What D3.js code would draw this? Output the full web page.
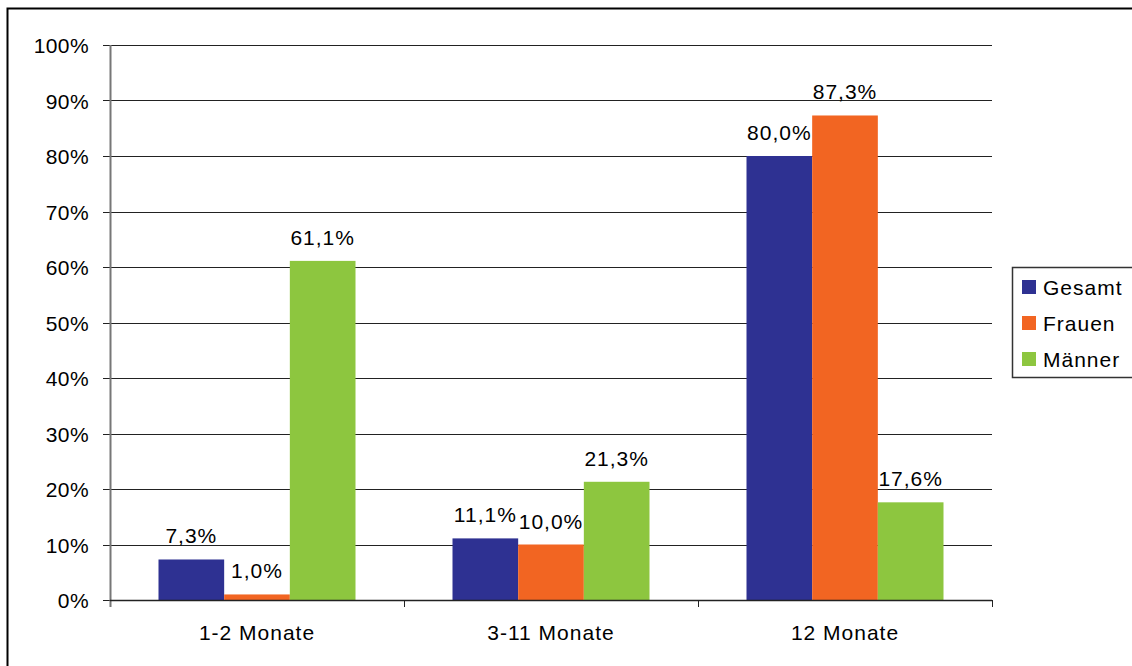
<!DOCTYPE html>
<html>
<head>
<meta charset="utf-8">
<script src="https://cdn.jsdelivr.net/npm/d3@7"></script>
<style>
	body { margin: 0; background: #fff; }
	text { font-family: "Liberation Sans", Arial, sans-serif; fill: #000; }
</style>
</head>
<body>
<div id="chart"></div>
<script>
// Chart data
var categories = ['1-2 Monate', '3-11 Monate', '12 Monate'];
var series = ['Gesamt', 'Frauen', 'Männer'];
var gesamt = [7.3, 11.1, 80.0];
var frauen = [1.0, 10.0, 87.3];
var maenner = [61.1, 21.3, 17.6];
var y_ticks = [0, 10, 20, 30, 40, 50, 60, 70, 80, 90, 100];
var colors = ['#2E3192', '#F26522', '#8DC63F'];

var total_width = 1132;
var total_height = 666;
var plot = {
	left: 110,
	right: 992,
	top: 45,
	bottom: 600
};

var svg = d3.select('#chart')
	.append('svg')
	.attr('width', total_width)
	.attr('height', total_height);

// Outer frame (only top and left edges visible)
svg.append('path')
	.attr('d', 'M7.5,666 L7.5,8.5 L1132,8.5')
	.attr('fill', 'none')
	.attr('stroke', '#000')
	.attr('stroke-width', 2);

var x0 = d3.scaleBand().domain(categories).range([plot.left, plot.right]).paddingInner(0).paddingOuter(0);
var x1 = d3.scaleBand().domain(series).range([48.5, x0.bandwidth() - 48.5]);
var y = d3.scaleLinear().domain([0, 100]).range([plot.bottom, plot.top]);

// Gridlines + y ticks
svg.selectAll('.grid')
	.data(y_ticks)
	.enter()
	.append('line')
	.attr('class', 'grid')
	.attr('x1', plot.left - 7)
	.attr('x2', plot.right)
	.attr('y1', function(d) { return Math.round(y(d)) + 0.5; })
	.attr('y2', function(d) { return Math.round(y(d)) + 0.5; })
	.attr('stroke', '#222')
	.attr('stroke-width', 1);

svg.selectAll('.ylabel')
	.data(y_ticks)
	.enter()
	.append('text')
	.attr('class', 'ylabel')
	.attr('x', plot.left - 21)
	.attr('y', function(d) { return y(d) + 8; })
	.attr('text-anchor', 'end')
	.attr('font-size', '21px')
	.attr('letter-spacing', '0.4px')
	.text(function(d) { return d + '%'; });

// Bars
var rows = categories.map(function(c, i) {
	return { cat: c, values: [gesamt[i], frauen[i], maenner[i]] };
});

var groups = svg.selectAll('.group')
	.data(rows)
	.enter()
	.append('g')
	.attr('class', 'group')
	.attr('transform', function(d) { return 'translate(' + x0(d.cat) + ',0)'; });

groups.selectAll('rect')
	.data(function(d) { return d.values.map(function(v, j) { return { s: series[j], v: v, j: j }; }); })
	.enter()
	.append('rect')
	.attr('x', function(d) { return x1(d.s); })
	.attr('y', function(d) { return y(d.v); })
	.attr('width', x1.bandwidth())
	.attr('height', function(d) { return y(0) - y(d.v); })
	.attr('fill', function(d) { return colors[d.j]; });

groups.selectAll('.vlabel')
	.data(function(d) { return d.values.map(function(v, j) { return { s: series[j], v: v, j: j }; }); })
	.enter()
	.append('text')
	.attr('class', 'vlabel')
	.attr('x', function(d) { return x1(d.s) + x1.bandwidth() / 2; })
	.attr('y', function(d) { return y(d.v) - 16; })
	.attr('text-anchor', 'middle')
	.attr('font-size', '21px')
	.attr('letter-spacing', '1px')
	.text(function(d) { return d.v.toFixed(1).replace('.', ',') + '%'; });

// Axes lines
svg.append('line')
	.attr('x1', plot.left + 0.5).attr('x2', plot.left + 0.5)
	.attr('y1', plot.top).attr('y2', plot.bottom + 7)
	.attr('stroke', '#777').attr('stroke-width', 2);

svg.append('line')
	.attr('x1', plot.left).attr('x2', plot.right)
	.attr('y1', plot.bottom + 0.5).attr('y2', plot.bottom + 0.5)
	.attr('stroke', '#222').attr('stroke-width', 1.5);

// Category ticks
var cat_ticks = categories.map(function(c) { return x0(c) + x0.bandwidth(); });
svg.selectAll('.xtick')
	.data(cat_ticks)
	.enter()
	.append('line')
	.attr('x1', function(d) { return Math.round(d) + 0.5; })
	.attr('x2', function(d) { return Math.round(d) + 0.5; })
	.attr('y1', plot.bottom)
	.attr('y2', plot.bottom + 7)
	.attr('stroke', '#222');

svg.selectAll('.xlabel')
	.data(categories)
	.enter()
	.append('text')
	.attr('class', 'xlabel')
	.attr('x', function(d) { return x0(d) + x0.bandwidth() / 2; })
	.attr('y', plot.bottom + 40)
	.attr('text-anchor', 'middle')
	.attr('font-size', '21px')
	.attr('letter-spacing', '1px')
	.text(function(d) { return d; });

// Legend
var legend = svg.append('g').attr('transform', 'translate(1012,267)');
legend.append('rect')
	.attr('x', 0.5).attr('y', 0.5)
	.attr('width', 130).attr('height', 110)
	.attr('fill', '#fff')
	.attr('stroke', '#333')
	.attr('stroke-width', 1.5);

var items = legend.selectAll('.item')
	.data(series)
	.enter()
	.append('g')
	.attr('class', 'item')
	.attr('transform', function(d, i) { return 'translate(0,' + (i * 36) + ')'; });

items.append('rect')
	.attr('x', 10).attr('y', 13)
	.attr('width', 14).attr('height', 14)
	.attr('fill', function(d, i) { return colors[i]; });

items.append('text')
	.attr('x', 31).attr('y', 28)
	.attr('font-size', '21px')
	.attr('letter-spacing', '1px')
	.text(function(d) { return d; });
</script>
</body>
</html>
